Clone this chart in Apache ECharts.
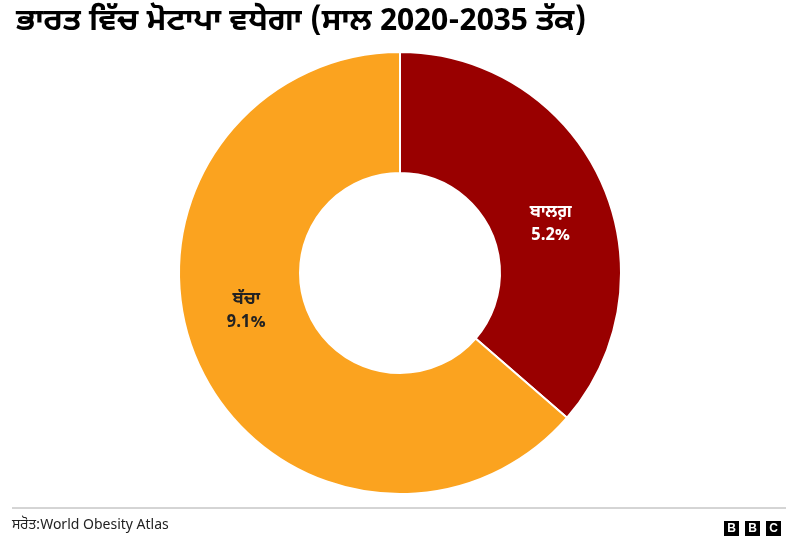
<!DOCTYPE html>
<html><head><meta charset="utf-8">
<script src="https://cdn.jsdelivr.net/npm/echarts@6/dist/echarts.min.js"></script>
<style>html,body{margin:0;padding:0;background:#fff}#c{width:799px;height:559px}</style>
</head><body><div id="c"></div>
<script>
const categories = ['ਬਾਲਗ਼', 'ਬੱਚਾ'];
const values = [5.2, 9.1];
const colors = ['#990000', '#FBA31F'];
const labelColors = ['#ffffff', '#222222'];
const labelOffsets = [[2, 20], [-5, -29]];
const FONT = '"Noto Sans Gurmukhi","Noto Sans","Open Sans",sans-serif';

const chart = echarts.init(document.getElementById('c'));
chart.setOption({
  animation: false,
  title: {
    text: 'ਭਾਰਤ ਵਿੱਚ ਮੋਟਾਪਾ ਵਧੇਗਾ (ਸਾਲ 2020-2035 ਤੱਕ)',
    left: 11, top: 4,
    textStyle: { fontFamily: FONT, fontSize: 31, fontWeight: 'bold', color: '#000' }
  },
  series: [{
    type: 'pie',
    center: [400, 273],
    radius: [100, 221],
    startAngle: 90,
    clockwise: true,
    itemStyle: { borderColor: '#fff', borderWidth: 2 },
    label: {
      position: 'inside',
      formatter: p => p.name + '\n' + p.value + '%',
      fontFamily: FONT, fontSize: 17, fontWeight: 'bold', lineHeight: 23
    },
    labelLine: { show: false },
    data: categories.map((n, i) => ({
      name: n, value: values[i],
      itemStyle: { color: colors[i] },
      label: { color: labelColors[i], offset: labelOffsets[i] }
    }))
  }],
  graphic: [
    { type: 'line', shape: { x1: 12, y1: 508, x2: 786, y2: 508 }, style: { stroke: '#aaaaaa', lineWidth: 1 } },
    { type: 'text', left: 12, top: 519, style: { text: 'ਸਰੋਤ:World Obesity Atlas', fontFamily: FONT, fontSize: 14, fill: '#222' } },
    { type: 'group', left: 724, top: 521, children: [
      { type: 'rect', shape: { x: 0, y: 0, width: 15, height: 15 }, style: { fill: '#000' } },
      { type: 'text', x: 7.5, y: 8, style: { text: 'B', fill: '#fff', fontFamily: 'Arial,Liberation Sans,sans-serif', fontWeight: 'bold', fontSize: 12, align: 'center', verticalAlign: 'middle' } },
      { type: 'rect', shape: { x: 21, y: 0, width: 15, height: 15 }, style: { fill: '#000' } },
      { type: 'text', x: 28.5, y: 8, style: { text: 'B', fill: '#fff', fontFamily: 'Arial,Liberation Sans,sans-serif', fontWeight: 'bold', fontSize: 12, align: 'center', verticalAlign: 'middle' } },
      { type: 'rect', shape: { x: 42, y: 0, width: 15, height: 15 }, style: { fill: '#000' } },
      { type: 'text', x: 49.5, y: 8, style: { text: 'C', fill: '#fff', fontFamily: 'Arial,Liberation Sans,sans-serif', fontWeight: 'bold', fontSize: 12, align: 'center', verticalAlign: 'middle' } }
    ]}
  ]
});
</script></body></html>
